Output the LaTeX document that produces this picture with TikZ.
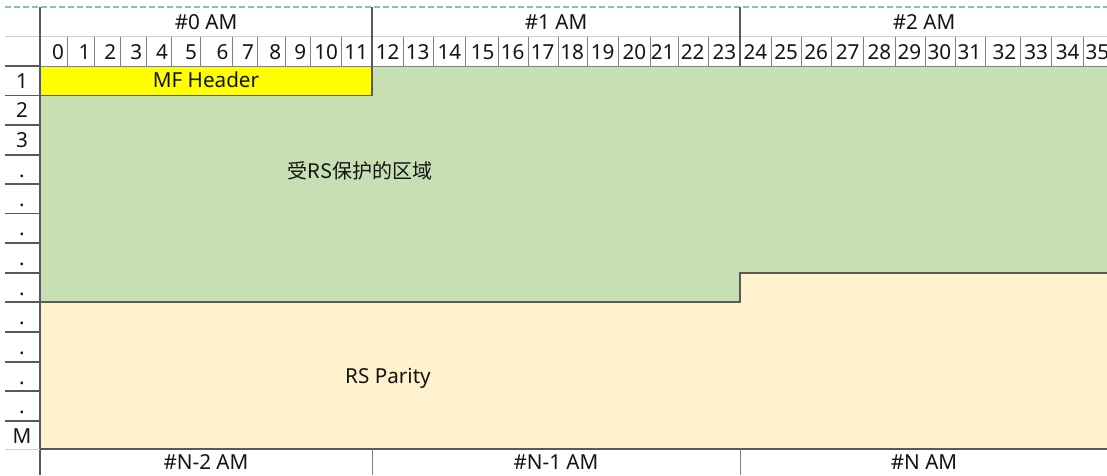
\documentclass[tikz,border=0pt]{standalone}
\usepackage{fontspec}
\setmainfont{Noto Sans}
\newfontfamily\cjk{Noto Sans CJK SC}
\definecolor{rsgreen}{HTML}{C6E0B4}
\definecolor{rsbeige}{HTML}{FFF2CC}
\definecolor{mfyellow}{HTML}{FFFF00}
\definecolor{dashc}{HTML}{8FBDB8}
\definecolor{darkln}{HTML}{595959}
\definecolor{midln}{HTML}{808080}
\definecolor{lightln}{HTML}{D0D0D0}
\begin{document}
\begin{tikzpicture}[x=0.75pt,y=-0.75pt,
  txt/.style={font=\fontsize{15.5}{18}\selectfont, inner sep=0pt, text=black!92, anchor=base},
  num/.style={txt, anchor=base east},
  dark/.style={draw=darkln, line width=0.9pt},
  mid/.style={draw=midln, line width=0.7pt},
  light/.style={draw=lightln, line width=0.6pt}]
\useasboundingbox (0,0) rectangle (1107,475);
\clip (0,0) rectangle (1107,475);
\fill[white] (0,0) rectangle (1107,475);
% regions
\fill[rsgreen] (40,66) -- (1107,66) -- (1107,273) -- (740,273) -- (740,302) -- (40,302) -- cycle;
\fill[rsbeige] (40,302) -- (740,302) -- (740,273) -- (1107,273) -- (1107,449) -- (40,449) -- cycle;
\fill[mfyellow] (40,66) rectangle (372,95.5);
% grid lines
\draw[dashc, line width=0.9pt, dash pattern=on 4.5pt off 2.25pt] (5,7) -- (1107,7);
\draw[light] (5,36.5) -- (1107,36.5);
\foreach \x in {67.7,94.3,120,146,171.7,200.7,232.3,257.7,285,310,341.7,403.3,433.3,465,498.3,528.3,558.3,587.7,618.3,650,678.3,708.3,771,801.7,831.7,863.3,895,925,955,985,1020,1051.7,1083.3}
  \draw[mid] (\x,36.5) -- (\x,66);
\draw[mid] (40,66) -- (1107,66);
\draw[dark] (40,7) -- (40,475);
\draw[dark] (372,7) -- (372,95.5) -- (40,95.5);
\draw[dark] (740,7) -- (740,66);
\draw[dark] (40,302) -- (740,302) -- (740,273) -- (1107,273);
\draw[dark] (40,449) -- (1107,449);
\draw[mid] (372,449) -- (372,475);
\draw[mid] (740,449) -- (740,475);
\foreach \y in {66,95.5,125,155,184,213.5,243,273,302,332,362,391,421}
  \draw[dark] (5,\y) -- (40,\y);
\draw[light] (5,449) -- (40,449);
% AM headers
\node[txt] (h0) at (206,29.5) {\#0 AM};
\node[txt] (h1) at (556,29.5) {\#1 AM};
\node[txt] (h2) at (924,29.5) {\#2 AM};
\node[txt] (f0) at (206,469.5) {\#N-2 AM};
\node[txt] (f1) at (556,469.5) {\#N-1 AM};
\node[txt] (f2) at (924,469.5) {\#N AM};
% column numbers
\foreach \x [count=\i from 0] in {67.7,94.3,120,146,171.7,200.7,232.3,257.7,285,310,341.7,371.7,403.3,433.3,465,498.3,528.3,558.3,587.7,618.3,650,678.3,708.3,740,771,801.7,831.7,863.3,895,925,955,985,1020,1051.7,1083.3,1113}
  \node[num] (c\i) at (\x-3.5,59.5) {\i};
% row labels
\foreach \t/\y [count=\i] in {1/66,2/95.5,3/125,./155,./184,./213.5,./243,./273,./302,./332,./362,./391,M/421}
  \node[txt] (r\i) at (22,\y+22) {\t};
% region labels
\node[txt] (mf) at (206,87.5) {MF Header};
\node[txt, font=\fontsize{15}{18}\selectfont] (prot) at (360,178) {\cjk 受RS保护的区域};
\node[txt] (par) at (388,383) {RS Parity};
\end{tikzpicture}
\end{document}
